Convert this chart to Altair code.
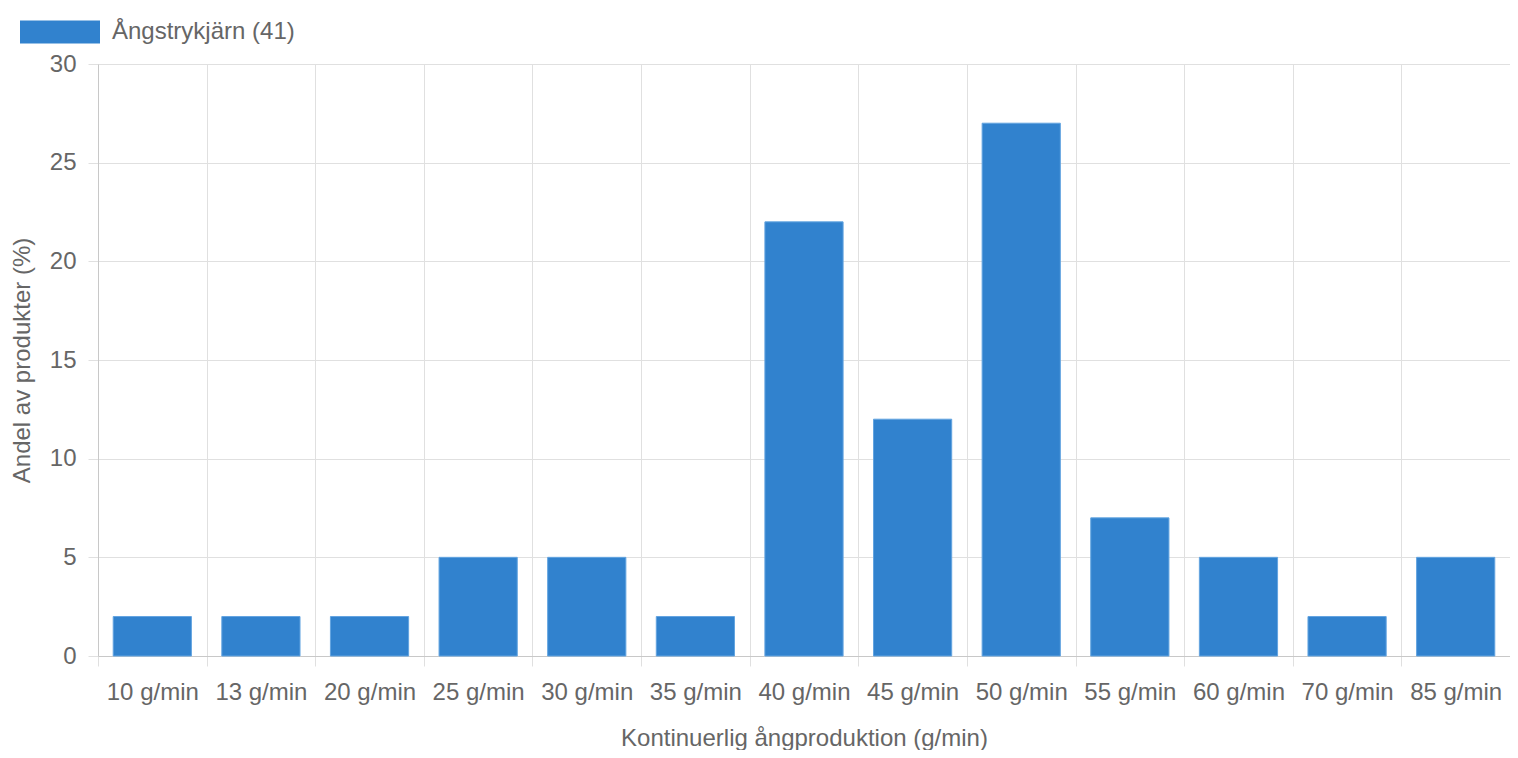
import altair as alt
import pandas as pd

categories = ["10 g/min", "13 g/min", "20 g/min", "25 g/min", "30 g/min", "35 g/min",
              "40 g/min", "45 g/min", "50 g/min", "55 g/min", "60 g/min", "70 g/min", "85 g/min"]
values = [2, 2, 2, 5, 5, 2, 22, 12, 27, 7, 5, 2, 5]
series_name = "Ångstrykjärn (41)"
y_ticks = [0, 5, 10, 15, 20, 25, 30]

df = pd.DataFrame({"cat": categories, "val": values, "series": [series_name] * len(categories)})

FONT = "Liberation Sans"
TEXT = "#666666"
GRID = "#e0e0e0"
AXIS = "#c8c8c8"
FS = 24

chart = alt.Chart(df).mark_bar(stroke="#63a4e0", strokeWidth=1,
                               width=alt.RelativeBandSize(0.72)).encode(
    x=alt.X("cat:N", sort=categories,
            scale=alt.Scale(paddingInner=0, paddingOuter=0),
            axis=alt.Axis(title="Kontinuerlig ångproduktion (g/min)", labelAngle=0,
                          tickBand="extent", grid=True, tickSize=10, labelPadding=14,
                          titlePadding=22)),
    y=alt.Y("val:Q", scale=alt.Scale(domain=[0, 30], nice=False),
            axis=alt.Axis(title="Andel av produkter (%)", values=y_ticks, tickSize=10,
                          labelPadding=12, titlePadding=15)),
    color=alt.Color("series:N", scale=alt.Scale(range=["#3182ce"]),
                    legend=alt.Legend(title=None, orient="none", legendX=-78, legendY=-72,
                                      symbolType="M-1,-0.2875H1V0.2875H-1Z", symbolSize=6400,
                                      symbolStrokeWidth=0, symbolOpacity=1, labelOffset=12,
                                      labelFontSize=FS, labelFont=FONT, labelColor=TEXT,
                                      labelLimit=500, padding=0)),
).properties(
    width=1412, height=592,
    padding={"left": 90, "top": 56, "right": 0, "bottom": 94},
    autosize=alt.AutoSizeParams(type="none"),
).configure_view(
    stroke=GRID, strokeWidth=1
).configure_axis(
    labelFont=FONT, titleFont=FONT, labelFontSize=FS, titleFontSize=FS,
    labelColor=TEXT, titleColor=TEXT, titleFontWeight="normal",
    gridColor=GRID, tickColor=GRID, domainColor=AXIS, gridWidth=1, domainWidth=1,
)

chart.save("out.html", embed_options={"renderer": "svg", "actions": False})
